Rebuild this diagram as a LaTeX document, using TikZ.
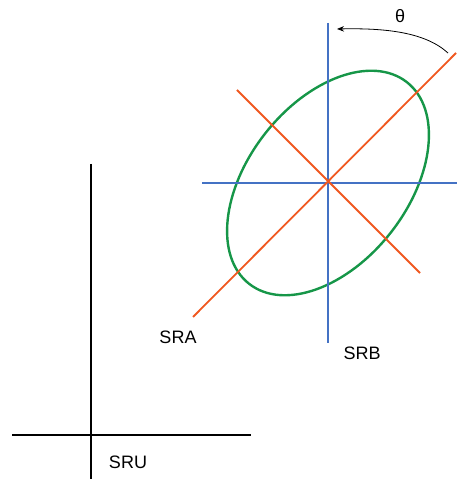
\documentclass[tikz,border=0pt]{standalone}
\usepackage{fontspec}
\setmainfont{Liberation Sans}
\usetikzlibrary{arrows.meta}
\definecolor{axblue}{RGB}{68,114,196}
\definecolor{axorange}{RGB}{240,88,32}
\definecolor{axgreen}{RGB}{22,150,72}
\begin{document}
\begin{tikzpicture}[x=1pt,y=1pt,
  blueax/.style={draw=axblue,line width=2.2pt},
  orangeax/.style={draw=axorange,line width=1.8pt},
  blackax/.style={draw=black,line width=1.8pt},
  lbl/.style={font=\fontsize{18}{20}\selectfont,inner sep=0pt}]
\useasboundingbox (0,0) rectangle (457,481);
% SRU axes
\coordinate (ut) at (91,317);
\coordinate (ub) at (91,2);
\coordinate (ul) at (12,46);
\coordinate (ur) at (251,46);
\draw[blackax] (ut) -- (ub);
\draw[blackax] (ul) -- (ur);
% centre
\coordinate (c) at (328,298);
% ellipse
\draw[draw=axgreen,line width=2.4pt,rotate around={52:(c)}] (c) ellipse [x radius=128,y radius=80];
% SRB axes
\coordinate (bt) at (328,458);
\coordinate (bb) at (328,138);
\coordinate (bl) at (202,298);
\coordinate (br) at (457,298);
\draw[blueax] (bt) -- (bb);
\draw[blueax] (bl) -- (br);
% SRA axes
\coordinate (a1) at (193,164);
\coordinate (a2) at (456,428);
\coordinate (a3) at (237,391);
\coordinate (a4) at (420,208);
\draw[orangeax] (a1) -- (a2);
\draw[orangeax] (a3) -- (a4);
% theta arrow
\coordinate (th1) at (448,428);
\coordinate (th2) at (337,452);
\draw[line width=0.8pt,-{Stealth[length=7pt,width=5.5pt]}] (th1) .. controls (425,449) and (385,453) .. (th2);
% labels
\node[lbl] (theta) at (400,465) {θ};
\node[lbl] (sra) at (178,144) {SRA};
\node[lbl] (srb) at (362,128) {SRB};
\node[lbl] (sru) at (128,19) {SRU};
\end{tikzpicture}
\end{document}
